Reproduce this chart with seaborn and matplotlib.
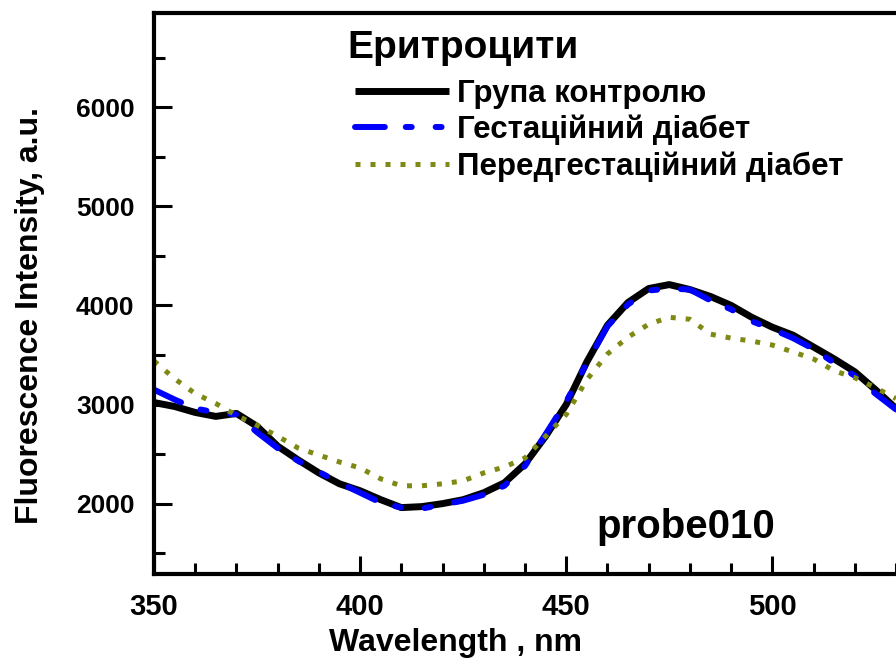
import matplotlib
matplotlib.use("Agg")
import matplotlib.pyplot as plt
import seaborn as sns
import numpy as np
import pandas as pd

# ---- data ----
wavelength = [350, 355, 360, 365, 370, 375, 380, 385, 390, 395, 400, 405, 410, 415,
              420, 425, 430, 435, 440, 445, 450, 455, 460, 465, 470, 475, 480, 485,
              490, 495, 500, 505, 510, 515, 520, 525, 530]
control = [3020, 2980, 2920, 2880, 2910, 2780, 2580, 2440, 2310, 2200, 2130, 2040, 1960, 1970,
           2000, 2040, 2110, 2210, 2400, 2680, 3000, 3430, 3800, 4030, 4170, 4210, 4160, 4090,
           4000, 3880, 3780, 3700, 3580, 3460, 3330, 3150, 2960]
gestational = [3150, 3050, 2960, 2920, 2900, 2720, 2560, 2430, 2320, 2210, 2110, 2010, 1960, 1950,
               1990, 2030, 2090, 2180, 2380, 2700, 3030, 3420, 3790, 4010, 4150, 4170, 4160, 4050,
               3960, 3840, 3760, 3670, 3560, 3420, 3290, 3110, 2950]
pregestational = [3440, 3260, 3110, 3010, 2890, 2790, 2680, 2560, 2490, 2420, 2360, 2250, 2180, 2180,
                  2200, 2230, 2310, 2370, 2460, 2680, 2900, 3250, 3510, 3680, 3810, 3880, 3860, 3710,
                  3670, 3640, 3600, 3530, 3460, 3340, 3270, 3170, 3060]

series_names = ["Група контролю", "Гестаційний діабет", "Передгестаційний діабет"]
legend_title = "Еритроцити"
x_ticks = [350, 400, 450, 500]
y_ticks = [2000, 3000, 4000, 5000, 6000]
x_label = "Wavelength , nm"
y_label = "Fluorescence Intensity, a.u."
probe_label = "probe010"

sns.set_style("ticks")
plt.rcParams["font.family"] = ["Liberation Sans", "DejaVu Sans"]
plt.rcParams["text.color"] = "black"
plt.rcParams["axes.labelcolor"] = "black"
plt.rcParams["xtick.color"] = "black"
plt.rcParams["ytick.color"] = "black"

fig = plt.figure(figsize=(8.96, 6.64), dpi=100)
ax = fig.add_axes([154 / 896, 90 / 664, 1 - 154 / 896, (574 - 13) / 664])

df = pd.DataFrame({"wl": wavelength, "c": control, "g": gestational, "p": pregestational})

sns.lineplot(data=df, x="wl", y="c", ax=ax, color="black", linewidth=5.0,
             label=series_names[0], solid_capstyle="butt")
sns.lineplot(data=df, x="wl", y="g", ax=ax, color="#0000ff", linewidth=4.3,
             linestyle=(0, (5, 3.5, 1, 4, 1, 4)), dash_capstyle="round",
             label=series_names[1])
sns.lineplot(data=df, x="wl", y="p", ax=ax, color="#7f8a14", linewidth=3.6,
             linestyle=(0, (1, 2)), dash_capstyle="butt",
             label=series_names[2])

ax.set_xlim(350, 529.3)
ax.set_ylim(1290, 6950)
ax.set_xticks(x_ticks)
ax.set_yticks(y_ticks)
ax.set_xticks(np.arange(350, 531, 10), minor=True)
ax.set_yticks(np.arange(1500, 6951, 500), minor=True)

ax.tick_params(axis="both", which="major", direction="in", length=13, width=2.2, pad=14)
ax.tick_params(axis="both", which="minor", direction="in", length=8, width=2.2)
ax.tick_params(axis="x", which="major", labelsize=21)
ax.tick_params(axis="y", which="major", labelsize=19)
for lab in ax.get_xticklabels() + ax.get_yticklabels():
    lab.set_fontweight("bold")

for side in ["left", "bottom", "top"]:
    ax.spines[side].set_linewidth(3)
    ax.spines[side].set_color("black")
ax.spines["right"].set_visible(False)

ax.set_xlabel(x_label, fontsize=23, fontweight="bold")
ax.xaxis.set_label_coords(0.406, -0.097)
ax.set_ylabel(y_label, fontsize=23, fontweight="bold", va="center")
ax.yaxis.set_label_coords(-0.167, 0.46)

ax.text(479, 1765, probe_label, ha="center", va="center", fontsize=29, fontweight="bold")

ax.text(0.260, 0.938, legend_title, transform=ax.transAxes, ha="left", va="center",
        fontsize=28, fontweight="bold")

leg = ax.legend(loc="upper left", bbox_to_anchor=(0.271, 0.883),
                frameon=False, fontsize=22.5,
                handlelength=3.0, handletextpad=0.25, labelspacing=0.2,
                borderpad=0.0, borderaxespad=0.0)
for t in leg.get_texts():
    t.set_fontweight("bold")

fig.savefig("out.png", dpi=100)
